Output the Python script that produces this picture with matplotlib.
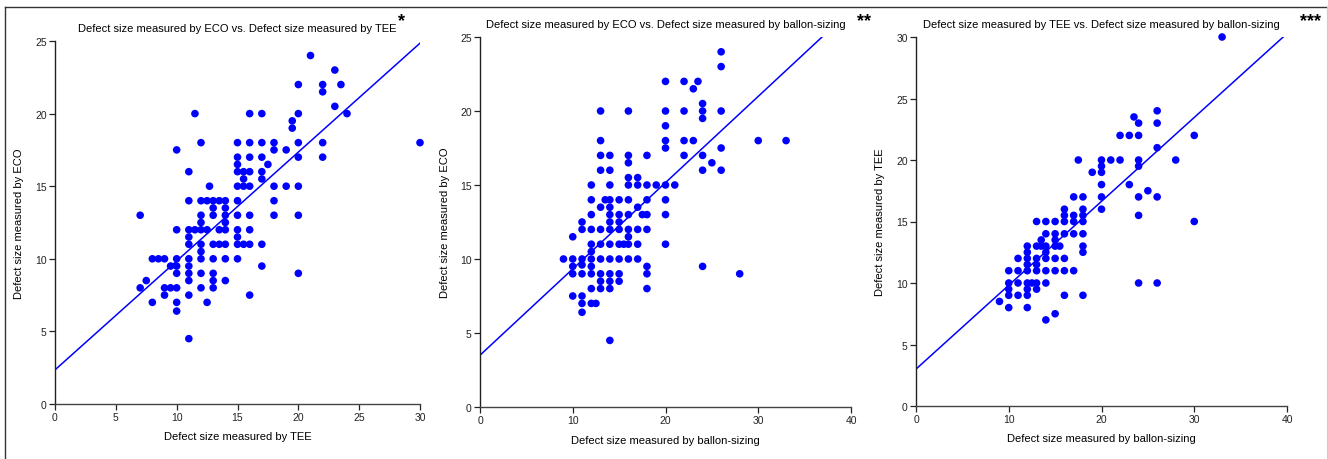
import numpy as np
import matplotlib.pyplot as plt
from matplotlib.lines import Line2D

plt.rcParams['font.family'] = ['Liberation Sans', 'DejaVu Sans']

W, H = 1328, 460

# panel 1: ECO vs TEE
tee_1 = [7, 7, 7.5, 8, 8.5, 9, 8, 9, 9, 9.5, 9.5, 10, 10, 10, 10, 10, 10, 10, 10,
         11, 11, 11, 11, 11, 11, 11, 11, 11, 11, 11, 11.5, 11.5,
         12, 12, 12, 12, 12, 12, 12, 12, 12, 12, 12.5, 12.5, 12.5, 12.7,
         13, 13, 13, 13, 13, 13, 13, 13, 13.5, 13.5, 13.5,
         14, 14, 14, 14, 14, 14, 14, 14,
         15, 15, 15, 15, 15, 15, 15, 15, 15, 15, 15, 15.5, 15.5, 15.5, 15.5,
         16, 16, 16, 16, 16, 16, 16, 16, 16,
         17, 17, 17, 17, 17, 17, 17, 17.5, 18, 18, 18, 18, 18, 19, 19, 19.5, 19.5,
         20, 20, 20, 20, 20, 20, 20, 21, 22, 22, 22, 22, 23, 23, 23.5, 24, 30]
eco_1 = [13, 8, 8.5, 10, 10, 10, 7, 8, 7.5, 8, 9.5, 8, 9, 9.5, 10, 12, 17.5, 7, 6.4,
         4.5, 7.5, 8.5, 9, 9.5, 10, 11, 11.5, 12, 14, 16, 20, 12,
         18, 14, 13, 12.5, 12, 11, 10.5, 10, 9, 8, 12, 14, 7, 15,
         14, 13.5, 13, 11, 10, 9, 8.5, 8, 14, 12, 11,
         14, 13.5, 13, 12.5, 12, 11, 10, 8.5,
         18, 17, 16.5, 16, 15, 14, 13, 12, 11.5, 11, 10, 16, 15.5, 15, 11,
         20, 18, 17, 16, 15, 13, 12, 11, 7.5,
         20, 18, 17, 16, 15.5, 11, 9.5, 16.5, 18, 17.5, 15, 14, 13, 17.5, 15, 19.5, 19,
         22, 20, 18, 17, 15, 13, 9, 24, 22, 21.5, 18, 17, 23, 20.5, 22, 20, 18]

# panel 2: ECO vs balloon sizing
bal_2 = [9, 10, 10, 10, 10, 10, 11, 11, 11, 11, 11, 11, 11, 11,
         12, 12, 12, 12, 12, 12, 12, 12, 12, 12, 12, 12.5,
         13, 13, 13, 13, 13, 13, 13, 13, 13, 13, 13, 13.5,
         14, 14, 14, 14, 14, 14, 14, 14, 14, 14, 14, 14, 14, 14,
         15, 15, 15, 15, 15, 15, 15, 15, 15.5,
         16, 16, 16, 16, 16, 16, 16, 16, 16, 16, 16,
         17, 17, 17, 17, 17, 17, 17.5, 18, 18, 18, 18, 18, 18, 18, 18, 19,
         20, 20, 20, 20, 20, 20, 20, 20, 20, 21, 22, 22, 22, 22, 23, 23, 23.5,
         24, 24, 24, 24, 24, 24, 25, 26, 26, 26, 26, 26, 28, 30, 33]
eco_2 = [10, 11.5, 10, 9.5, 9, 7.5, 12.5, 12, 10, 9.6, 9, 7.5, 7, 6.4,
         15, 14, 13, 12, 11, 10.5, 10, 9.5, 9, 8, 7, 7,
         20, 18, 17, 16, 13.5, 12, 11, 10, 9, 8.5, 8, 14,
         17, 16, 15, 14, 13.5, 13, 12.5, 12, 11, 10, 9, 8.5, 8, 4.5,
         14, 13, 12.5, 12, 11, 10, 9, 8.5, 11,
         20, 17, 16.5, 15.5, 15, 14, 13, 12, 11.5, 11, 10,
         15.5, 15, 13.5, 12, 11, 10, 13, 17, 15, 14, 13, 12, 9.5, 9, 8, 15,
         22, 20, 19, 18, 17.5, 15, 14, 13, 11, 15, 22, 20, 18, 17, 21.5, 18, 22,
         20.5, 20, 19.5, 17, 16, 9.5, 16.5, 24, 23, 20, 17.5, 16, 9, 18, 18]

# panel 3: TEE vs balloon sizing
bal_3 = [9, 10, 10, 10, 10, 10, 11, 11, 11, 11,
         12, 12, 12, 12, 12, 12, 12, 12, 12, 12.5,
         13, 13, 13, 13, 13, 13, 13, 13.5, 13.5,
         14, 14, 14, 14, 14, 14, 14, 14,
         15, 15, 15, 15, 15, 15, 15, 15.5,
         16, 16, 16, 16, 16, 16, 16,
         17, 17, 17, 17, 17, 17.5, 18, 18, 18, 18, 18, 18, 18, 18, 19,
         20, 20, 20, 20, 20, 20, 21, 22, 22, 23, 23, 23.5,
         24, 24, 24, 24, 24, 24, 24, 25, 26, 26, 26, 26, 26, 28, 30, 30, 33]
tee_3 = [8.5, 11, 10, 9.5, 9, 8, 12, 11, 10, 9,
         13, 12.5, 12, 11.5, 11, 10, 9.5, 9, 8, 10,
         15, 13, 12, 11.5, 11, 10, 9.5, 13.5, 13,
         15, 14, 13, 12.5, 12, 11, 10, 7,
         15, 14, 13.5, 13, 12, 11, 7.5, 13,
         16, 15.5, 15, 14, 12, 11, 9,
         17, 15.5, 15, 14, 11, 20, 17, 16, 15.5, 15, 14, 13, 12.5, 9, 19,
         20, 19.5, 19, 18, 17, 16, 20, 22, 20, 22, 18, 23.5,
         23, 22, 20, 19.5, 17, 15.5, 10, 17.5, 24, 23, 21, 17, 10, 20, 22, 15, 30]

panels = [
    dict(x=tee_1, y=eco_1, xlim=30, ylim=25, xticks=[0, 5, 10, 15, 20, 25, 30],
         yticks=[0, 5, 10, 15, 20, 25], fit=(2.35, 0.75),
         title="Defect size measured by ECO vs. Defect size measured by TEE",
         xlabel="Defect size measured by TEE", ylabel="Defect size measured by ECO",
         stars="*", box=(55, 420, 42, 405), title_y=29, star_x=402, star_y=22,
         xlabel_y=437, ylabel_x=19),
    dict(x=bal_2, y=eco_2, xlim=40, ylim=25, xticks=[0, 10, 20, 30, 40],
         yticks=[0, 5, 10, 15, 20, 25], fit=(3.5, 0.583),
         title="Defect size measured by ECO vs. Defect size measured by ballon-sizing",
         xlabel="Defect size measured by ballon-sizing", ylabel="Defect size measured by ECO",
         stars="**", box=(480, 851, 38, 408), title_y=25, star_x=864, star_y=22,
         xlabel_y=441, ylabel_x=445),
    dict(x=bal_3, y=tee_3, xlim=40, ylim=30, xticks=[0, 10, 20, 30, 40],
         yticks=[0, 5, 10, 15, 20, 25, 30], fit=(3.0, 0.682),
         title="Defect size measured by TEE vs. Defect size measured by ballon-sizing",
         xlabel="Defect size measured by ballon-sizing", ylabel="Defect size measured by TEE",
         stars="***", box=(916, 1287, 38, 407), title_y=25, star_x=1311, star_y=22,
         xlabel_y=439, ylabel_x=880),
]

fig = plt.figure(figsize=(W / 100, H / 100), dpi=100)
fig.patch.set_facecolor('white')

# outer frame around the figure
fig.add_artist(Line2D([5 / W, 1 - 1 / W], [1 - 8 / H, 1 - 8 / H], color='#333333', lw=1.0))
fig.add_artist(Line2D([5 / W, 5 / W], [0, 1 - 8 / H], color='#333333', lw=1.0))
fig.add_artist(Line2D([1 - 1.5 / W, 1 - 1.5 / W], [0, 1 - 8 / H], color='#cccccc', lw=0.8))

blue = '#0000ff'

for p in panels:
    l, r, t, b = p['box']
    ax = fig.add_axes([l / W, 1 - b / H, (r - l) / W, (b - t) / H])
    ax.scatter(p['x'], p['y'], s=30, color=blue, edgecolors='none', zorder=3, clip_on=False)

    b0, m = p['fit']
    x_end = min(p['xlim'], (p['ylim'] - b0) / m)
    xs = np.array([0, x_end])
    ax.plot(xs, b0 + m * xs, color=blue, lw=1.1, zorder=2)

    ax.set_xlim(0, p['xlim'])
    ax.set_ylim(0, p['ylim'])
    ax.set_xticks(p['xticks'])
    ax.set_yticks(p['yticks'])
    for s in ['top', 'right']:
        ax.spines[s].set_visible(False)
    ax.spines['left'].set_color('#222222')
    ax.spines['bottom'].set_color('#444444')
    ax.spines['left'].set_linewidth(1.0)
    ax.spines['bottom'].set_linewidth(1.0)
    ax.tick_params(direction='out', length=4, width=0.9, labelsize=7.5, pad=2,
                   colors='#222222')

    fig.text((l + r) / 2 / W, 1 - p['title_y'] / H, p['title'], fontsize=8,
             ha='center', va='center')
    fig.text(p['star_x'] / W, 1 - p['star_y'] / H, p['stars'], fontsize=13,
             fontweight='bold', ha='center', va='center')
    fig.text((l + r) / 2 / W, 1 - p['xlabel_y'] / H, p['xlabel'], fontsize=8,
             ha='center', va='center')
    fig.text(p['ylabel_x'] / W, 1 - (t + b) / 2 / H, p['ylabel'], fontsize=8,
             ha='center', va='center', rotation=90)

fig.savefig('out.png', dpi=100)
